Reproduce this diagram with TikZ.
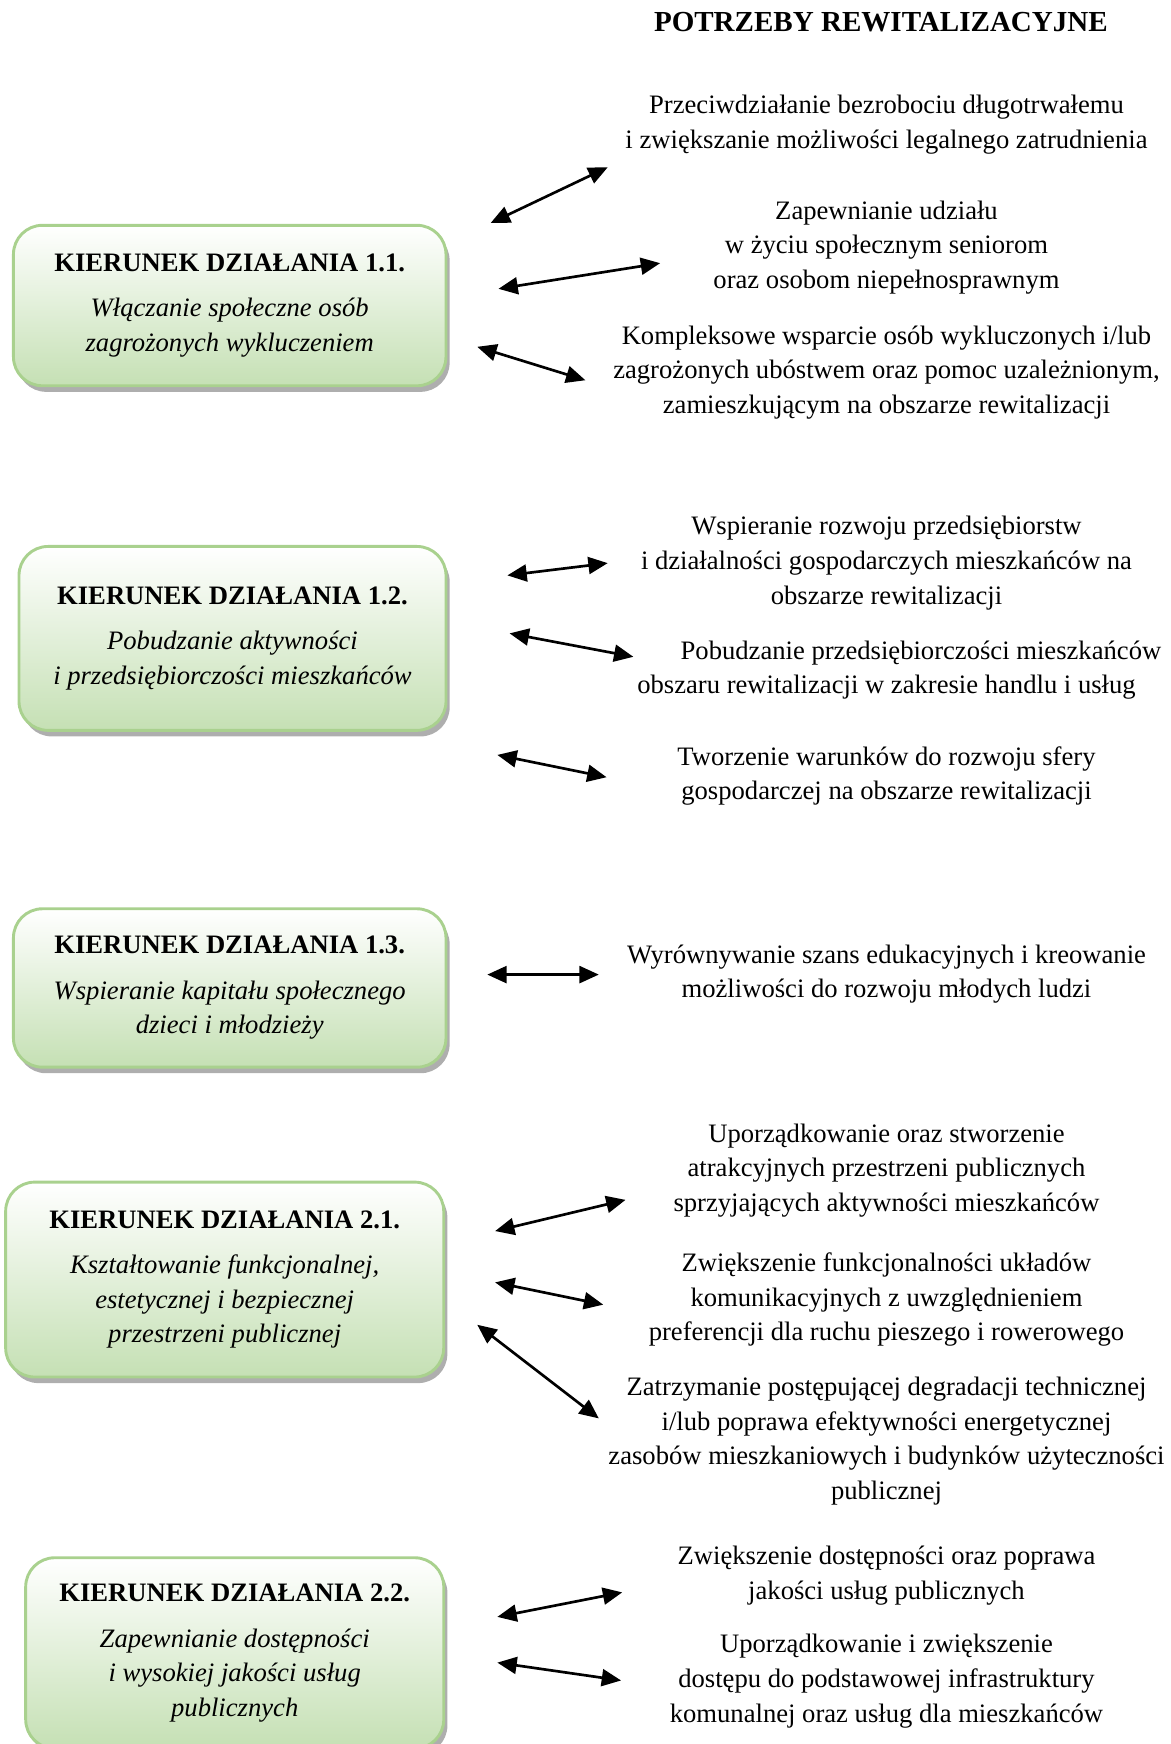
\documentclass[tikz,border=0pt]{standalone}
\usepackage{fontspec}
\setmainfont{Liberation Serif}
\usetikzlibrary{arrows.meta}
\usetikzlibrary{shadows}
\definecolor{ramka}{RGB}{169,209,142}
\definecolor{ziel}{RGB}{197,224,180}
\tikzset{
  kierunek/.style={draw=ramka, line width=1.2pt, rounded corners=12pt,
    top color=white, bottom color=ziel,
    drop shadow={shadow xshift=1.5pt, shadow yshift=-2.5pt, fill=black!45, opacity=.7},
    align=center, inner sep=0pt, font=\fontsize{11}{14.3}\selectfont},
  potrzeba/.style={align=center, inner sep=0pt, font=\fontsize{11}{14.3}\selectfont},
  strz/.style={{Triangle[length=8pt,width=7pt]}-{Triangle[length=8pt,width=7pt]}, line width=1.1pt}
}
\begin{document}
\begin{tikzpicture}[x=0.01619cm,y=-0.01619cm]
\useasboundingbox (0,0) rectangle (1050,1564);
\node (tytul) at (790,20) [potrzeba, font=\fontsize{12}{14.3}\selectfont]{\textbf{POTRZEBY REWITALIZACYJNE}};
% kierunki dzialania
\node (k11) at (206,274) [kierunek, minimum width=6.28cm, minimum height=2.33cm]
  {\textbf{KIERUNEK DZIAŁANIA 1.1.}\\[4.5pt]\textit{Włączanie społeczne osób}\\\textit{zagrożonych wykluczeniem}};
\node (k12) at (208.5,572.5) [kierunek, minimum width=6.20cm, minimum height=2.67cm]
  {\textbf{KIERUNEK DZIAŁANIA 1.2.}\\[4.5pt]\textit{Pobudzanie aktywności}\\\textit{i przedsiębiorczości mieszkańców}};
\node (k13) at (206,886) [kierunek, minimum width=6.28cm, minimum height=2.30cm]
  {\textbf{KIERUNEK DZIAŁANIA 1.3.}\\[4.5pt]\textit{Wspieranie kapitału społecznego}\\\textit{dzieci i młodzieży}};
\node (k21) at (201.5,1147.5) [kierunek, minimum width=6.36cm, minimum height=2.83cm]
  {\textbf{KIERUNEK DZIAŁANIA 2.1.}\\[4.5pt]\textit{Kształtowanie funkcjonalnej,}\\\textit{estetycznej i bezpiecznej}\\\textit{przestrzeni publicznej}};
\node (k22) at (210.5,1482.5) [kierunek, minimum width=6.07cm, minimum height=2.77cm]
  {\textbf{KIERUNEK DZIAŁANIA 2.2.}\\[4.5pt]\textit{Zapewnianie dostępności}\\\textit{i wysokiej jakości usług}\\\textit{publicznych}};
% potrzeby
\node (p1) at (795,111.5) [potrzeba]{Przeciwdziałanie bezrobociu długotrwałemu\\i zwiększanie możliwości legalnego zatrudnienia};
\node (p2) at (795,222) [potrzeba]{Zapewnianie udziału\\w życiu społecznym seniorom\\oraz osobom niepełnosprawnym};
\node (p3) at (795,334) [potrzeba]{Kompleksowe wsparcie osób wykluczonych i/lub\\zagrożonych ubóstwem oraz pomoc uzależnionym,\\zamieszkującym na obszarze rewitalizacji};
\node (p4) at (795,505) [potrzeba]{Wspieranie rozwoju przedsiębiorstw\\i działalności gospodarczych mieszkańców na\\obszarze rewitalizacji};
\node (p5) at (795,601) [potrzeba]{\hspace*{1.0cm}Pobudzanie przedsiębiorczości mieszkańców\\obszaru rewitalizacji w zakresie handlu i usług};
\node (p6) at (795,696) [potrzeba]{Tworzenie warunków do rozwoju sfery\\gospodarczej na obszarze rewitalizacji};
\node (p7) at (795,873.5) [potrzeba]{Wyrównywanie szans edukacyjnych i kreowanie\\możliwości do rozwoju młodych ludzi};
\node (p8) at (795,1049.5) [potrzeba]{Uporządkowanie oraz stworzenie\\atrakcyjnych przestrzeni publicznych\\sprzyjających aktywności mieszkańców};
\node (p9) at (795,1165.5) [potrzeba]{Zwiększenie funkcjonalności układów\\komunikacyjnych z uwzględnieniem\\preferencji dla ruchu pieszego i rowerowego};
\node (p10) at (795,1292.5) [potrzeba]{Zatrzymanie postępującej degradacji technicznej\\i/lub poprawa efektywności energetycznej\\zasobów mieszkaniowych i budynków użyteczności\\publicznej};
\node (p11) at (795,1413) [potrzeba]{Zwiększenie dostępności oraz poprawa\\jakości usług publicznych};
\node (p12) at (795,1507.5) [potrzeba]{Uporządkowanie i zwiększenie\\dostępu do podstawowej infrastruktury\\komunalnej oraz usług dla mieszkańców};
% strzalki
\coordinate (s1a) at (440,200);  \coordinate (s1b) at (545,150);
\coordinate (s2a) at (447,259);  \coordinate (s2b) at (592,236);
\coordinate (s3a) at (428,311);  \coordinate (s3b) at (525,341);
\coordinate (s4a) at (455,516);  \coordinate (s4b) at (545,505);
\coordinate (s5a) at (457,568);  \coordinate (s5b) at (568,589);
\coordinate (s6a) at (446,677);  \coordinate (s6b) at (544,697);
\coordinate (s7a) at (437,874);  \coordinate (s7b) at (537,874);
\coordinate (s8a) at (444,1104); \coordinate (s8b) at (561,1076);
\coordinate (s9a) at (444,1150); \coordinate (s9b) at (541,1170);
\coordinate (s10a) at (428,1188); \coordinate (s10b) at (537,1272);
\coordinate (s11a) at (446,1450); \coordinate (s11b) at (558,1428);
\coordinate (s12a) at (446,1491); \coordinate (s12b) at (557,1507);
\draw[strz] (s1a)--(s1b);
\draw[strz] (s2a)--(s2b);
\draw[strz] (s3a)--(s3b);
\draw[strz] (s4a)--(s4b);
\draw[strz] (s5a)--(s5b);
\draw[strz] (s6a)--(s6b);
\draw[strz] (s7a)--(s7b);
\draw[strz] (s8a)--(s8b);
\draw[strz] (s9a)--(s9b);
\draw[strz] (s10a)--(s10b);
\draw[strz] (s11a)--(s11b);
\draw[strz] (s12a)--(s12b);
\end{tikzpicture}
\end{document}
